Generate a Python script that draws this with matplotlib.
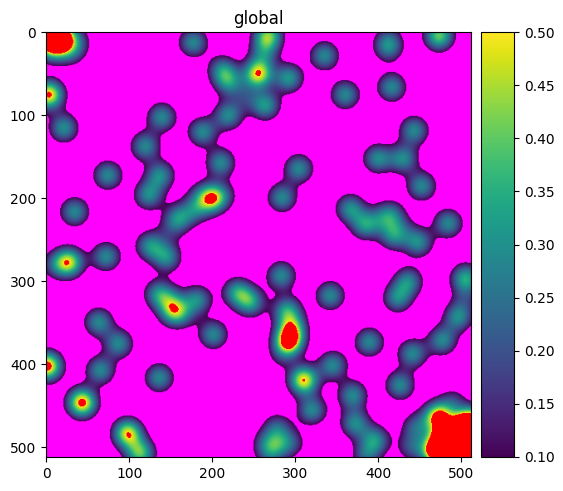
import numpy as np
import matplotlib
matplotlib.use("Agg")
import matplotlib.pyplot as plt

# blob centres (x, y in image pixels) and their peak value
blob_x = [2, 18, 5, 20, 32, 38, 3, 21, 139, 119, 137, 123, 74, 34, 177, 212, 220, 255, 262, 240, 219, 188, 210, 200, 185, 215, 159, 180, 148,
          125, 145, 267, 292, 264, 335, 360, 412, 412, 416, 473, 443, 399, 430, 452, 304, 284,
          366, 384, 414, 400, 430, 418, 448, 484, 27, 10, 72, 135, 153, 150, 165, 182, 201, 230, 246, 63, 87, 65,
          43, 1, 136, 98, 113, 283, 342, 292, 296, 290, 283, 310, 345, 320, 369, 372, 396, 385,
          279, 278, 265, 295, 270, 423, 436, 389, 505, 505, 496, 477, 441, 426,
          472, 480, 500, 512, 512, 470, 495, 440, 445, 490]
blob_y = [2, 3, 18, 17, 24, 10, 75, 115, 102, 137, 172, 196, 172, 216, 12, 45, 60, 50, 25, 78, 100, 120, 157, 200, 195, 195, 224, 213, 240,
          257, 271, 4, 55, 88, 28, 75, 18, 5, 66, 4, 118, 152, 152, 185, 164, 199,
          212, 232, 220, 225, 235, 245, 253, 230, 277, 280, 270, 315, 336, 322, 340, 322, 364, 313, 325, 349, 375, 407,
          446, 402, 416, 483, 507, 293, 317, 372, 355, 335, 390, 419, 401, 455, 437, 471, 491, 510,
          495, 475, 495, 495, 510, 320, 300, 373, 296, 320, 343, 371, 387, 425,
          463, 490, 480, 470, 495, 505, 510, 500, 475, 445]
blob_peak = [0.5, 0.42, 0.3, 0.2, 0.12, 0.12, 0.52, 0.29, 0.28, 0.28, 0.28, 0.28, 0.28, 0.28, 0.28, 0.25, 0.25, 0.48, 0.2, 0.12, 0.28, 0.28, 0.28, 0.44, 0.1, 0.1, 0.28, 0.2, 0.08,
             0.28, 0.28, 0.4, 0.3, 0.3, 0.28, 0.28, 0.25, 0.1, 0.28, 0.4, 0.28, 0.28, 0.28, 0.28, 0.28, 0.28,
             0.28, 0.28, 0.25, 0.08, 0.08, 0.25, 0.28, 0.28, 0.45, 0.15, 0.28, 0.27, 0.34, 0.14, 0.12, 0.27, 0.28, 0.3, 0.3, 0.28, 0.28, 0.28,
             0.54, 0.55, 0.28, 0.48, 0.38, 0.28, 0.28, 0.55, 0.3, 0.3, 0.1, 0.5, 0.28, 0.28, 0.28, 0.28, 0.28, 0.2,
             0.15, 0.18, 0.16, 0.16, 0.15, 0.27, 0.27, 0.28, 0.33, 0.12, 0.28, 0.28, 0.28, 0.28,
             0.52, 0.6, 0.6, 0.6, 0.6, 0.6, 0.6, 0.18, 0.2, 0.15]

size = 512
spread = 12.3
yy, xx = np.mgrid[0:size, 0:size]
field = np.zeros((size, size))
for x0, y0, peak in zip(blob_x, blob_y, blob_peak):
    field += peak * np.exp(-((xx - x0) ** 2 + (yy - y0) ** 2) / (2 * spread ** 2))

cmap = plt.get_cmap("viridis").copy()
cmap.set_under("magenta")
cmap.set_over("red")

fig = plt.figure(figsize=(5.63, 4.91), dpi=100)
ax = fig.add_axes([46 / 563, 1 - 457 / 491, 425 / 563, 425 / 491])
im = ax.imshow(field, cmap=cmap, vmin=0.1, vmax=0.5)
ax.set_xticks([0, 100, 200, 300, 400, 500])
ax.set_yticks([0, 100, 200, 300, 400, 500])
ax.set_title("global", fontsize=12)

cax = fig.add_axes([481 / 563, 1 - 457 / 491, 33 / 563, 425 / 491])
cbar = fig.colorbar(im, cax=cax)
cbar.set_ticks(np.arange(0.1, 0.51, 0.05))

fig.savefig("out.png", dpi=100)
